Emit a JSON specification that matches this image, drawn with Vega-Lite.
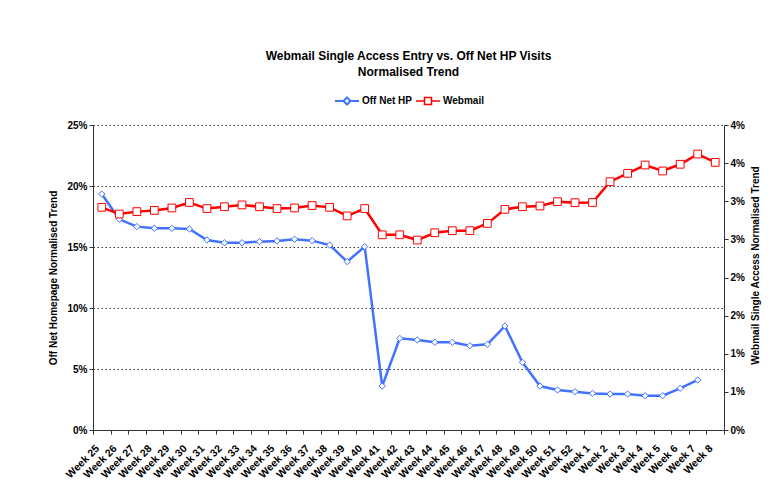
{
  "$schema": "https://vega.github.io/schema/vega-lite/v6.json",
  "width": 631,
  "height": 305,
  "autosize": {"type": "none"},
  "padding": {"left": 93, "top": 125, "right": 54, "bottom": 61},
  "background": "white",
  "config": {
    "font": "'Liberation Sans', Arial, sans-serif",
    "view": {"stroke": null},
    "axis": {"labelFontWeight": "bold", "labelFontSize": 10, "labelColor": "black", "titleFontWeight": "bold", "titleFontSize": 10, "titleColor": "black", "domainColor": "#333", "tickColor": "#333"},
    "legend": {"labelFontWeight": "bold", "labelFontSize": 10, "labelColor": "black", "labelOffset": 2, "symbolSize": 576, "symbolStrokeWidth": 2, "symbolFillColor": "white", "direction": "horizontal"}
  },
  "title": {
    "text": ["Webmail Single Access Entry vs. Off Net HP Visits", "Normalised Trend"],
    "fontSize": 12,
    "fontWeight": "bold",
    "lineHeight": 16,
    "anchor": "middle",
    "offset": 9,
    "color": "black"
  },
  "data": {
    "values": [
      {"week": "Week 25", "series": "Off Net HP", "value": 0.1934},
      {"week": "Week 26", "series": "Off Net HP", "value": 0.1727},
      {"week": "Week 27", "series": "Off Net HP", "value": 0.1667},
      {"week": "Week 28", "series": "Off Net HP", "value": 0.1653},
      {"week": "Week 29", "series": "Off Net HP", "value": 0.1653},
      {"week": "Week 30", "series": "Off Net HP", "value": 0.1648},
      {"week": "Week 31", "series": "Off Net HP", "value": 0.1557},
      {"week": "Week 32", "series": "Off Net HP", "value": 0.1535},
      {"week": "Week 33", "series": "Off Net HP", "value": 0.1535},
      {"week": "Week 34", "series": "Off Net HP", "value": 0.1544},
      {"week": "Week 35", "series": "Off Net HP", "value": 0.1549},
      {"week": "Week 36", "series": "Off Net HP", "value": 0.1563},
      {"week": "Week 37", "series": "Off Net HP", "value": 0.1552},
      {"week": "Week 38", "series": "Off Net HP", "value": 0.1516},
      {"week": "Week 39", "series": "Off Net HP", "value": 0.138},
      {"week": "Week 40", "series": "Off Net HP", "value": 0.1503},
      {"week": "Week 41", "series": "Off Net HP", "value": 0.036},
      {"week": "Week 42", "series": "Off Net HP", "value": 0.0751},
      {"week": "Week 43", "series": "Off Net HP", "value": 0.0738},
      {"week": "Week 44", "series": "Off Net HP", "value": 0.0719},
      {"week": "Week 45", "series": "Off Net HP", "value": 0.0719},
      {"week": "Week 46", "series": "Off Net HP", "value": 0.0691},
      {"week": "Week 47", "series": "Off Net HP", "value": 0.0702},
      {"week": "Week 48", "series": "Off Net HP", "value": 0.0852},
      {"week": "Week 49", "series": "Off Net HP", "value": 0.0555},
      {"week": "Week 50", "series": "Off Net HP", "value": 0.036},
      {"week": "Week 51", "series": "Off Net HP", "value": 0.0328},
      {"week": "Week 52", "series": "Off Net HP", "value": 0.0314},
      {"week": "Week 1", "series": "Off Net HP", "value": 0.03},
      {"week": "Week 2", "series": "Off Net HP", "value": 0.0295},
      {"week": "Week 3", "series": "Off Net HP", "value": 0.0295},
      {"week": "Week 4", "series": "Off Net HP", "value": 0.0281},
      {"week": "Week 5", "series": "Off Net HP", "value": 0.0281},
      {"week": "Week 6", "series": "Off Net HP", "value": 0.0342},
      {"week": "Week 7", "series": "Off Net HP", "value": 0.041},
      {"week": "Week 25", "series": "Webmail", "value": 0.0292},
      {"week": "Week 26", "series": "Webmail", "value": 0.02832},
      {"week": "Week 27", "series": "Webmail", "value": 0.02864},
      {"week": "Week 28", "series": "Webmail", "value": 0.0288},
      {"week": "Week 29", "series": "Webmail", "value": 0.02912},
      {"week": "Week 30", "series": "Webmail", "value": 0.02984},
      {"week": "Week 31", "series": "Webmail", "value": 0.02904},
      {"week": "Week 32", "series": "Webmail", "value": 0.02928},
      {"week": "Week 33", "series": "Webmail", "value": 0.02952},
      {"week": "Week 34", "series": "Webmail", "value": 0.02928},
      {"week": "Week 35", "series": "Webmail", "value": 0.02904},
      {"week": "Week 36", "series": "Webmail", "value": 0.02912},
      {"week": "Week 37", "series": "Webmail", "value": 0.02944},
      {"week": "Week 38", "series": "Webmail", "value": 0.0292},
      {"week": "Week 39", "series": "Webmail", "value": 0.02808},
      {"week": "Week 40", "series": "Webmail", "value": 0.02904},
      {"week": "Week 41", "series": "Webmail", "value": 0.0256},
      {"week": "Week 42", "series": "Webmail", "value": 0.0256},
      {"week": "Week 43", "series": "Webmail", "value": 0.02491},
      {"week": "Week 44", "series": "Webmail", "value": 0.02587},
      {"week": "Week 45", "series": "Webmail", "value": 0.02614},
      {"week": "Week 46", "series": "Webmail", "value": 0.02614},
      {"week": "Week 47", "series": "Webmail", "value": 0.0271},
      {"week": "Week 48", "series": "Webmail", "value": 0.02894},
      {"week": "Week 49", "series": "Webmail", "value": 0.02928},
      {"week": "Week 50", "series": "Webmail", "value": 0.02938},
      {"week": "Week 51", "series": "Webmail", "value": 0.02995},
      {"week": "Week 52", "series": "Webmail", "value": 0.02981},
      {"week": "Week 1", "series": "Webmail", "value": 0.02984},
      {"week": "Week 2", "series": "Webmail", "value": 0.03256},
      {"week": "Week 3", "series": "Webmail", "value": 0.03366},
      {"week": "Week 4", "series": "Webmail", "value": 0.03475},
      {"week": "Week 5", "series": "Webmail", "value": 0.03397},
      {"week": "Week 6", "series": "Webmail", "value": 0.03485},
      {"week": "Week 7", "series": "Webmail", "value": 0.03619},
      {"week": "Week 8", "series": "Webmail", "value": 0.0351}
    ]
  },
  "encoding": {
    "x": {
      "field": "week",
      "type": "nominal",
      "sort": ["Week 25","Week 26","Week 27","Week 28","Week 29","Week 30","Week 31","Week 32","Week 33","Week 34","Week 35","Week 36","Week 37","Week 38","Week 39","Week 40","Week 41","Week 42","Week 43","Week 44","Week 45","Week 46","Week 47","Week 48","Week 49","Week 50","Week 51","Week 52","Week 1","Week 2","Week 3","Week 4","Week 5","Week 6","Week 7","Week 8"],
      "scale": {"type": "band", "paddingInner": 0, "paddingOuter": 0},
      "axis": {"title": null, "labelAngle": -45, "labelAlign": "right", "labelBaseline": "top", "labelFontSize": 10.5, "tickSize": 4, "tickBand": "extent", "labelOffset": -8, "labelPadding": 9, "grid": false}
    }
  },
  "layer": [
    {
      "transform": [{"filter": "datum.series == 'Off Net HP'"}],
      "encoding": {
        "y": {
          "field": "value",
          "type": "quantitative",
          "scale": {"domain": [0, 0.25], "nice": false},
          "axis": {"title": "Off Net Homepage Normalised Trend", "format": ".0%", "values": [0, 0.05, 0.1, 0.15, 0.2, 0.25], "grid": true, "gridDash": [1.5, 2.5], "gridColor": "#333", "gridWidth": 1, "tickSize": 4, "titlePadding": 8}
        }
      },
      "layer": [
        {"mark": {"type": "line", "strokeWidth": 2.5, "color": "#4272ff"}},
        {
          "mark": {"type": "point", "shape": "diamond", "filled": false, "fill": "white", "fillOpacity": 1, "size": 40, "strokeWidth": 1, "opacity": 1},
          "encoding": {
            "stroke": {
              "field": "series",
              "type": "nominal",
              "scale": {"domain": ["Off Net HP"], "range": ["#4272ff"]},
              "legend": {"orient": "none", "legendX": 241, "legendY": -37, "title": null, "symbolType": "M-1,0L-0.29,0M0.29,0L1,0M0,-0.29L0.29,0L0,0.29L-0.29,0Z", "symbolStrokeColor": "#4272ff"}
            }
          }
        }
      ]
    },
    {
      "transform": [{"filter": "datum.series == 'Webmail'"}],
      "encoding": {
        "y": {
          "field": "value",
          "type": "quantitative",
          "scale": {"domain": [0, 0.04], "nice": false},
          "axis": {"orient": "right", "title": "Webmail Single Access Normalised Trend", "titleAngle": 270, "titleBaseline": "top", "titleY": 140, "values": [0, 0.005, 0.01, 0.015, 0.02, 0.025, 0.03, 0.035, 0.04], "labelExpr": "ceil(datum.value * 100 - 0.0001) + '%'", "grid": false, "tickSize": 4, "titlePadding": 6}
        }
      },
      "layer": [
        {"mark": {"type": "line", "strokeWidth": 2.5, "color": "#ff0000"}},
        {
          "mark": {"type": "point", "shape": "square", "filled": false, "fill": "white", "fillOpacity": 1, "size": 60, "strokeWidth": 1, "opacity": 1},
          "encoding": {
            "color": {
              "field": "series",
              "type": "nominal",
              "scale": {"domain": ["Webmail"], "range": ["#ff0000"]},
              "legend": {"orient": "none", "legendX": 322, "legendY": -37, "title": null, "symbolType": "M-1,0L-0.29,0M0.29,0L1,0M-0.29,-0.29L0.29,-0.29L0.29,0.29L-0.29,0.29Z", "symbolStrokeColor": "#ff0000", "symbolStrokeWidth": 1.5}
            }
          }
        }
      ]
    }
  ],
  "resolve": {"scale": {"y": "independent"}}
}
